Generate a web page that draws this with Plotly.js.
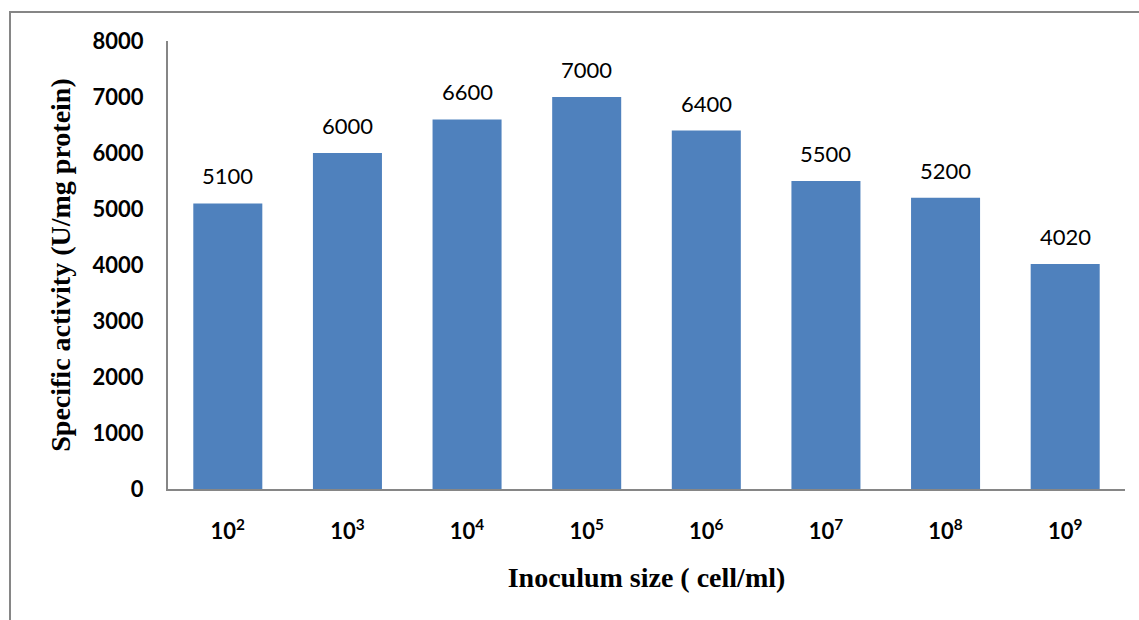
<!DOCTYPE html>
<html>
<head>
<meta charset="utf-8">
<script src="https://cdn.plot.ly/plotly-3.0.1.min.js"></script>
<style>
  html, body { margin: 0; padding: 0; background: #fff; }
  #chart { width: 1139px; height: 620px; }
</style>
</head>
<body>
<div id="chart"></div>
<script>
// Inoculum size categories (cells/ml) and measured specific activity
const categories = ["10<sup>2</sup>", "10<sup>3</sup>", "10<sup>4</sup>", "10<sup>5</sup>",
                    "10<sup>6</sup>", "10<sup>7</sup>", "10<sup>8</sup>", "10<sup>9</sup>"];
const activity = [5100, 6000, 6600, 7000, 6400, 5500, 5200, 4020];
const yTicks = [0, 1000, 2000, 3000, 4000, 5000, 6000, 7000, 8000];

const barColor = "#4F81BD";
const axisColor = "#868686";
const tickFont = { family: "Lato, 'Open Sans', sans-serif", size: 22, color: "#000", weight: "bold" };
const titleFont = { family: "'Liberation Serif', 'DejaVu Serif', serif", size: 28, color: "#000", weight: "bold" };

const trace = {
  type: "bar",
  x: categories,
  y: activity,
  marker: { color: barColor },
  hoverinfo: "x+y"
};

// value labels above each bar
const labels = categories.map((c, i) => ({
  x: c, y: activity[i], xref: "x", yref: "y",
  text: String(activity[i]),
  showarrow: false, yanchor: "bottom", yshift: 12,
  font: { family: "Lato, 'Open Sans', sans-serif", size: 22, color: "#000" }
}));

const layout = {
  width: 1139, height: 620,
  margin: { l: 168, r: 14, t: 41, b: 131 },
  paper_bgcolor: "#fff", plot_bgcolor: "#fff",
  showlegend: false,
  bargap: 0.423,
  xaxis: {
    type: "category",
    showline: true, linecolor: axisColor, linewidth: 2,
    ticks: "", tickfont: tickFont, ticklabelstandoff: 22,
    showgrid: false, zeroline: false,
    title: { text: "Inoculum size ( cell/ml)", font: titleFont, standoff: 24 }
  },
  yaxis: {
    range: [0, 8000],
    tickvals: yTicks, ticktext: yTicks.map(String),
    showline: true, linecolor: axisColor, linewidth: 2,
    ticks: "", tickfont: tickFont, ticklabelstandoff: 18,
    showgrid: false, zeroline: false,
    title: { text: "Specific activity (U/mg protein)", font: titleFont, standoff: 14 }
  },
  annotations: labels,
  shapes: [{
    type: "path", xref: "paper", yref: "paper",
    path: "M -0.1651,-0.35 L -0.1651,1.0647 L 1.03,1.0647",
    line: { color: axisColor, width: 2 }
  }]
};

Plotly.newPlot("chart", [trace], layout, { displayModeBar: false, staticPlot: true });
</script>
</body>
</html>
